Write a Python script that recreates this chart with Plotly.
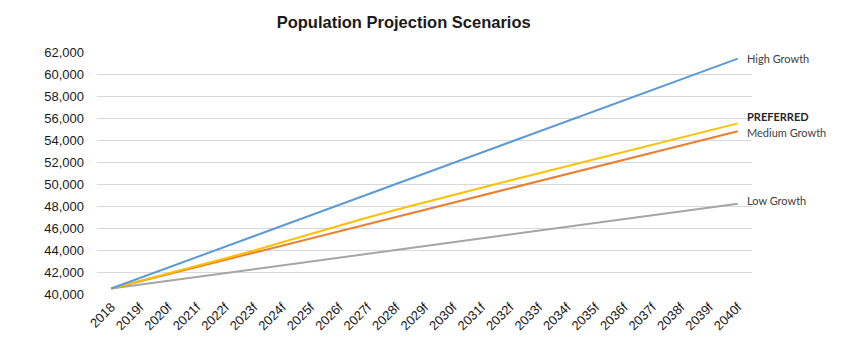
import plotly.graph_objects as go

# Projection years (2018 actual, the rest forecast)
years = ["2018"] + [f"{y}f" for y in range(2019, 2041)]

high_growth = [40500, 41450, 42400, 43350, 44300, 45250, 46200, 47150, 48100, 49050,
               50000, 50950, 51900, 52850, 53800, 54750, 55700, 56650, 57600, 58550,
               59500, 60450, 61400]
preferred = [40500, 41180, 41850, 42520, 43200, 43930, 44700, 45470, 46220, 46950,
             47660, 48350, 49010, 49660, 50310, 50960, 51610, 52260, 52910, 53560,
             54210, 54860, 55510]
medium_growth = [40500, 41150, 41800, 42450, 43100, 43750, 44400, 45050, 45700, 46350,
                 47000, 47650, 48300, 48950, 49600, 50250, 50900, 51550, 52200, 52850,
                 53500, 54150, 54800]
low_growth = [40500, 40850, 41200, 41550, 41900, 42250, 42600, 42950, 43300, 43650,
              44000, 44350, 44700, 45050, 45400, 45750, 46100, 46450, 46800, 47150,
              47500, 47850, 48200]

y_ticks = list(range(40000, 62001, 2000))

series = [
    ("Low Growth", low_growth, "#A5A5A5"),
    ("Medium Growth", medium_growth, "#ED7D31"),
    ("PREFERRED", preferred, "#FFC000"),
    ("High Growth", high_growth, "#5B9BD5"),
]

fig = go.Figure()
for name, vals, color in series:
    fig.add_trace(go.Scatter(x=years, y=vals, mode="lines", name=name,
                             line=dict(color=color, width=2), hoverinfo="x+y"))

# End-of-line labels
label_font = dict(family="Lato, 'Open Sans', sans-serif", size=11, color="#404040")
end_labels = [
    ("High Growth", high_growth[-1], 0, False),
    ("PREFERRED", preferred[-1], 7, True),
    ("Medium Growth", medium_growth[-1], -1, False),
    ("Low Growth", low_growth[-1], 3, False),
]
for text, val, yshift, bold in end_labels:
    fig.add_annotation(x=years[-1], y=val, xref="x", yref="y",
                       text=f"<b>{text}</b>" if bold else text,
                       showarrow=False, xanchor="left", yanchor="middle",
                       xshift=7, yshift=yshift,
                       font=dict(label_font, color="#262626" if bold else "#404040"))

fig.update_layout(
    width=850, height=346,
    margin=dict(l=97, r=98, t=52, b=52),
    margin_autoexpand=False,
    paper_bgcolor="white", plot_bgcolor="white",
    showlegend=False,
    title=dict(text="<b>Population Projection Scenarios</b>",
               x=398 / 850, xanchor="center", xref="paper",
               y=1 - 22 / 346, yanchor="middle", yref="container",
               font=dict(family="Liberation Sans, Arial, sans-serif", size=16.5, color="#1a1a1a")),
    font=dict(family="Liberation Sans, Arial, sans-serif", color="#1a1a1a"),
)
fig.update_xaxes(
    type="category", range=[-0.5, len(years) - 0.5],
    tickangle=-45, tickfont=dict(size=13, color="#1a1a1a"),
    showgrid=False, zeroline=False, showline=False, ticks="",
    ticklabelstandoff=2,
)
fig.update_yaxes(
    range=[40000, 62000], tickvals=y_ticks, tickformat=",d",
    tickfont=dict(size=13, color="#1a1a1a"),
    showgrid=True, gridcolor="#D9D9D9", gridwidth=1.2,
    zeroline=False, showline=False, ticks="", ticklabelstandoff=12,
)

fig.write_html("out.html")
